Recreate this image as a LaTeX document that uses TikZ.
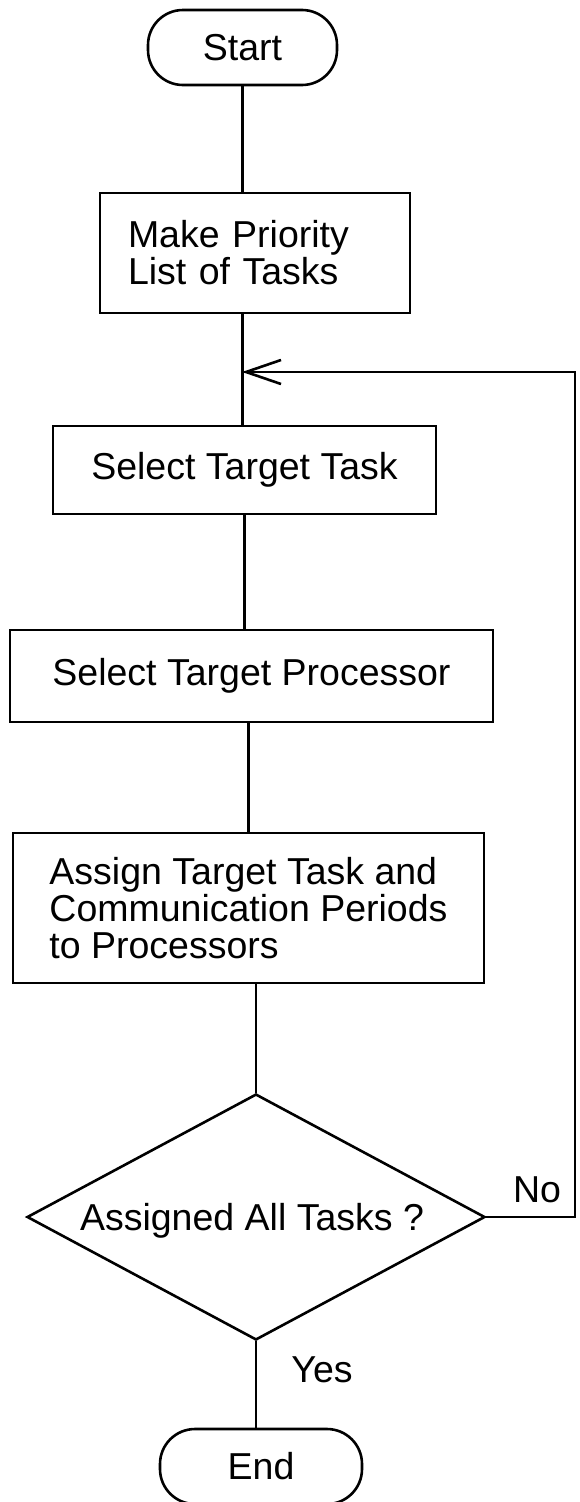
\documentclass[tikz,border=0pt]{standalone}
\usepackage{fontspec}
\setmainfont{Liberation Sans}
\usetikzlibrary{shapes.geometric,arrows.meta,calc}
\begin{document}
\begin{tikzpicture}[x=1pt,y=-1pt,line width=2.6pt,
  every node/.style={font=\fontsize{37.5}{37}\selectfont},
  term/.style={draw,rectangle,rounded corners=35pt,inner sep=0pt},
  procbox/.style={draw,rectangle,inner sep=0pt},
  decision/.style={draw,diamond,inner sep=0pt},
  lbl/.style={inner sep=0pt},
  flow/.style={line width=2.6pt}]
\useasboundingbox (0,0) rectangle (580,1502);

\node[term,minimum width=189pt,minimum height=75pt] (start) at (242.5,47.5) {Start};
\node[procbox,minimum width=310pt,minimum height=120pt,text width=254pt,inner xsep=28pt,align=left] (make) at (255,253)
  {Make Priority\\List of Tasks};
\node[procbox,minimum width=383pt,minimum height=88pt] (task) at (244.5,470) {Select Target Task};
\node[procbox,minimum width=483pt,minimum height=92pt] (proc) at (251.5,676) {Select Target Processor};
\node[procbox,minimum width=471pt,minimum height=150pt,align=left] (assign) at (248.5,908)
  {Assign Target Task and\\Communication Periods\\to Processors};
\node[decision,minimum width=458pt,minimum height=246pt] (dec) at (256,1217) {};
\node[lbl] (dectext) at (252,1221) {Assigned All Tasks ?};
\node[term,minimum width=202pt,minimum height=75pt] (end) at (261,1466.5) {End};

\node[lbl] (no) at (537,1190) {No};
\node[lbl] (yes) at (322,1370) {Yes};

\coordinate (rail) at (575,0);
\coordinate (loop) at (242,372);

\draw[flow] (start.south) -- (start.south |- make.north);
\draw[flow] (start.south |- make.south) -- (start.south |- task.north);
\draw[flow] (task.south) -- (task.south |- proc.north);
\draw[flow] (assign.north |- proc.south) -- (assign.north);
\draw[flow] (dec.north |- assign.south) -- (dec.north);
\draw[flow] (dec.south) -- (dec.south |- end.north);
\draw[flow,-{Straight Barb[length=35pt,width=24pt,line width=2.6pt]}]
  (dec.east) -- (dec.east -| rail) -- (rail |- loop) -- (loop);
\end{tikzpicture}
\end{document}
